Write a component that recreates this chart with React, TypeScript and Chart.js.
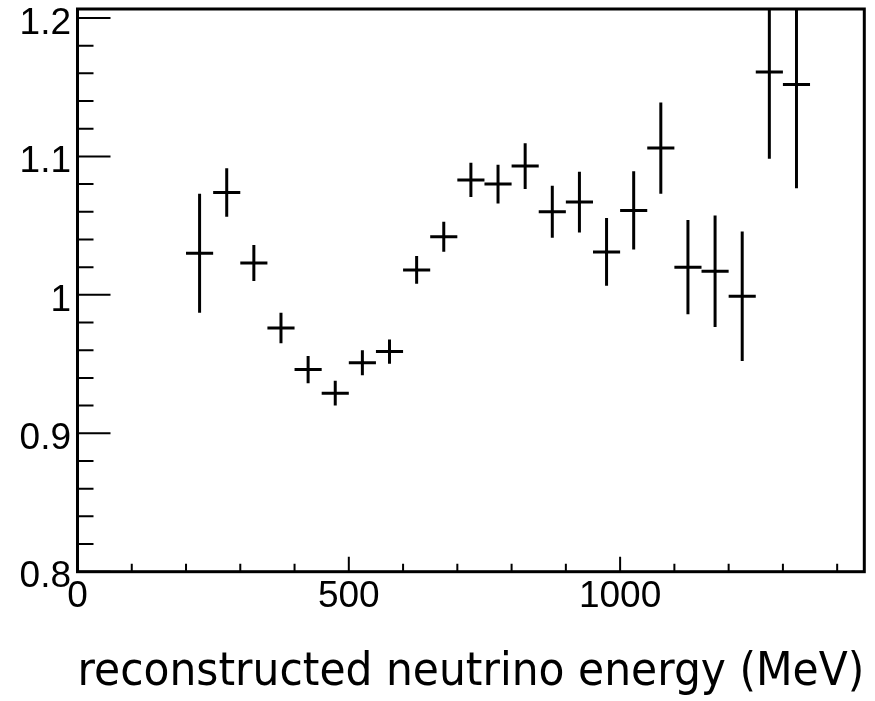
import React, { useEffect, useRef } from 'react';
import { Chart, registerables } from 'chart.js';

Chart.register(...registerables);

// Bin centres (MeV)
const binCenters = [225, 275, 325, 375, 425, 475, 525, 575, 625, 675, 725, 775, 825, 875, 925, 975, 1025, 1075, 1125, 1175, 1225, 1275, 1325];
// Ratio values
const ratioValues = [1.030, 1.074, 1.023, 0.976, 0.946, 0.929, 0.951, 0.959, 1.018, 1.042, 1.083, 1.080, 1.093, 1.060, 1.067, 1.031, 1.061, 1.106, 1.020, 1.017, 0.999, 1.161, 1.152];
// Ratio errors (half length of vertical bar)
const ratioErrors = [0.043, 0.0175, 0.013, 0.011, 0.0098, 0.009, 0.009, 0.0088, 0.010, 0.0108, 0.0124, 0.014, 0.0166, 0.0188, 0.022, 0.0245, 0.0283, 0.033, 0.034, 0.0403, 0.0467, 0.0627, 0.075];
const binHalfWidth = 25;

const xMin = 0;
const xMax = 1450;
const yMin = 0.8;
const yMax = 1.2065;

const xTickValues = [0, 500, 1000];
const xMinorTicks = [100, 200, 300, 400, 600, 700, 800, 900, 1100, 1200, 1300, 1400];
const yTickValues = [0.8, 0.9, 1.0, 1.1, 1.2];
const yMinorTicks = [0.82, 0.84, 0.86, 0.88, 0.92, 0.94, 0.96, 0.98, 1.02, 1.04, 1.06, 1.08, 1.12, 1.14, 1.16, 1.18];

const xTitle = 'reconstructed neutrino energy (MeV)';

const rootStyle = {
  id: 'rootStyle',
  afterDatasetsDraw(chart: any) {
    const { ctx, chartArea: a, scales } = chart;
    const x = scales.x;
    const y = scales.y;
    const pts = chart.data.datasets[0].data as { x: number; y: number }[];
    ctx.save();
    ctx.beginPath();
    ctx.rect(a.left, a.top, a.right - a.left, a.bottom - a.top);
    ctx.clip();
    ctx.strokeStyle = '#000';
    ctx.lineWidth = 3;
    ctx.lineCap = 'butt';
    pts.forEach((p, i) => {
      const err = ratioErrors[i];
      const px = x.getPixelForValue(p.x);
      const py = y.getPixelForValue(p.y);
      const x0 = x.getPixelForValue(p.x - binHalfWidth);
      const x1 = x.getPixelForValue(p.x + binHalfWidth);
      const y0 = y.getPixelForValue(p.y - err);
      const y1 = y.getPixelForValue(p.y + err);
      ctx.beginPath();
      ctx.moveTo(x0, py);
      ctx.lineTo(x1, py);
      ctx.moveTo(px, y0);
      ctx.lineTo(px, y1);
      ctx.stroke();
    });
    ctx.restore();
  },
  afterDraw(chart: any) {
    const { ctx, chartArea: a, scales } = chart;
    const x = scales.x;
    const y = scales.y;
    ctx.save();
    ctx.strokeStyle = '#000';
    ctx.lineWidth = 2;
    ctx.beginPath();
    yTickValues.forEach((v) => {
      const py = y.getPixelForValue(v);
      ctx.moveTo(a.left, py);
      ctx.lineTo(a.left + 33, py);
    });
    yMinorTicks.forEach((v) => {
      const py = y.getPixelForValue(v);
      ctx.moveTo(a.left, py);
      ctx.lineTo(a.left + 16, py);
    });
    xTickValues.forEach((v) => {
      const px = x.getPixelForValue(v);
      ctx.moveTo(px, a.bottom);
      ctx.lineTo(px, a.bottom - 15);
    });
    xMinorTicks.forEach((v) => {
      const px = x.getPixelForValue(v);
      ctx.moveTo(px, a.bottom);
      ctx.lineTo(px, a.bottom - 8);
    });
    ctx.stroke();
    ctx.lineWidth = 3;
    ctx.strokeRect(a.left, a.top, a.right - a.left, a.bottom - a.top);
    ctx.restore();
  },
};

export default function App() {
  const canvasRef = useRef<HTMLCanvasElement | null>(null);

  useEffect(() => {
    if (!canvasRef.current) return;
    const chart = new Chart(canvasRef.current, {
      type: 'scatter',
      data: {
        datasets: [
          {
            data: binCenters.map((c, i) => ({ x: c, y: ratioValues[i] })),
            pointRadius: 0,
            showLine: false,
            borderColor: '#000',
            backgroundColor: '#000',
          },
        ],
      },
      options: {
        animation: false,
        responsive: false,
        devicePixelRatio: 1,
        layout: { padding: { top: 9, right: 10.7, left: 0, bottom: 0 } },
        plugins: { legend: { display: false }, tooltip: { enabled: false } },
        events: [],
        scales: {
          x: {
            type: 'linear',
            min: xMin,
            max: xMax,
            grid: { display: false, drawTicks: false },
            border: { display: false },
            afterBuildTicks: (scale: any) => {
              scale.ticks = xTickValues.map((v) => ({ value: v }));
            },
            afterFit: (scale: any) => {
              scale.height = 129.3;
              scale.paddingLeft = 0;
              scale.paddingRight = 0;
            },
            ticks: {
              color: '#000',
              padding: 3,
              maxRotation: 0,
              autoSkip: false,
              font: { family: 'Liberation Sans', size: 37 },
              callback: (v: any) => String(v),
            },
            title: {
              display: true,
              text: xTitle,
              color: '#000',
              font: { family: 'DejaVu Sans', size: 45.5 },
              padding: { top: 0, bottom: 1 },
            },
          },
          y: {
            type: 'linear',
            min: yMin,
            max: yMax,
            grid: { display: false, drawTicks: false },
            border: { display: false },
            afterBuildTicks: (scale: any) => {
              scale.ticks = yTickValues.map((v) => ({ value: v }));
            },
            afterFit: (scale: any) => {
              scale.width = 77.5;
              scale.paddingTop = 0;
              scale.paddingBottom = 0;
            },
            ticks: {
              color: '#000',
              padding: 6.5,
              labelOffset: 5.5,
              autoSkip: false,
              font: { family: 'Liberation Sans', size: 37 },
              callback: (v: any) => String(Number(Number(v).toFixed(2))),
            },
          },
        },
      },
      plugins: [rootStyle],
    } as any);
    return () => chart.destroy();
  }, []);

  return (
    <div style={{ position: 'absolute', left: 0, top: 0, width: 875, height: 701, background: '#fff' }}>
      <canvas ref={canvasRef} width={875} height={701} style={{ display: 'block', width: 875, height: 701 }} />
    </div>
  );
}
